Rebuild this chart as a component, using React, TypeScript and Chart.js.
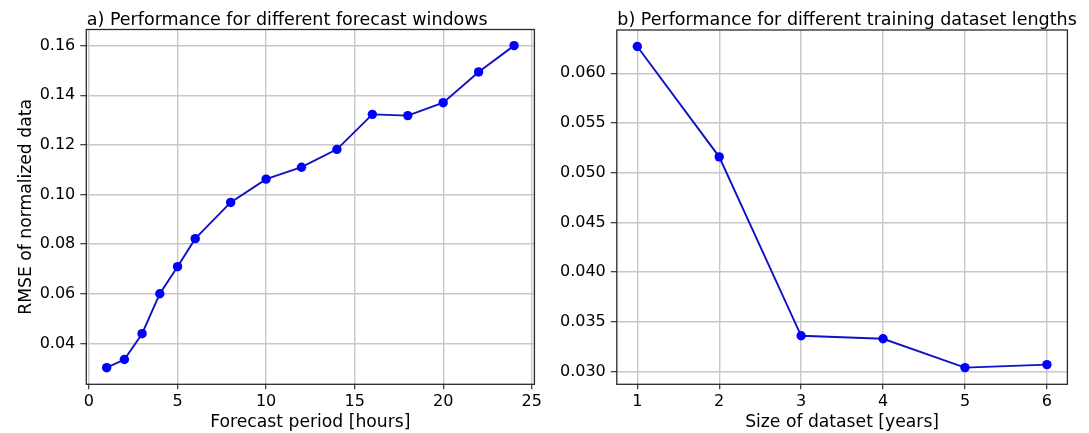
import React, { useEffect, useRef } from 'react';
import { Chart, registerables } from 'chart.js';

Chart.register(...registerables);

// ---- data ----
const forecastHours = [1, 2, 3, 4, 5, 6, 8, 10, 12, 14, 16, 18, 20, 22, 24];
const forecastRmse = [0.0302, 0.0335, 0.0439, 0.06, 0.0709, 0.0822, 0.0968, 0.1062, 0.111, 0.1182, 0.1323, 0.1318, 0.137, 0.1494, 0.16];
const datasetYears = [1, 2, 3, 4, 5, 6];
const datasetRmse = [0.0627, 0.0516, 0.0336, 0.0333, 0.0304, 0.0307];

const forecastXTicks = [0, 5, 10, 15, 20, 25];
const forecastYTicks = [0.04, 0.06, 0.08, 0.1, 0.12, 0.14, 0.16];
const datasetXTicks = [1, 2, 3, 4, 5, 6];
const datasetYTicks = [0.03, 0.035, 0.04, 0.045, 0.05, 0.055, 0.06];

const titleA = 'a) Performance for different forecast windows';
const titleB = 'b) Performance for different training dataset lengths';
const xLabelA = 'Forecast period [hours]';
const xLabelB = 'Size of dataset [years]';
const yLabelA = 'RMSE of normalized data';

const FONT = '"DejaVu Sans", "Liberation Sans", sans-serif';

type PanelCfg = {
  xs: number[];
  ys: number[];
  xTicks: number[];
  yTicks: number[];
  xMin: number;
  xMax: number;
  yMin: number;
  yMax: number;
  yDecimals: number;
  title: string;
  xLabel: string;
  yLabel?: string;
  width: number;
  plotLeft: number;
  plotRight: number;
  plotTop: number;
  plotBottom: number;
};

function makeChart(canvas: HTMLCanvasElement, c: PanelCfg, height: number) {
  const titlePlugin = {
    id: 'panelTitle',
    afterDraw(chart: any) {
      const ctx = chart.ctx;
      ctx.save();
      ctx.font = `17.5px ${FONT}`;
      ctx.fillStyle = '#000';
      ctx.textAlign = 'left';
      ctx.textBaseline = 'alphabetic';
      ctx.fillText(c.title, chart.chartArea.left + 0.5, 24.5);
      ctx.restore();
    },
  };
  const framePlugin = {
    id: 'frame',
    afterDatasetsDraw(chart: any) {
      const { left, top, right, bottom } = chart.chartArea;
      const ctx = chart.ctx;
      ctx.save();
      ctx.strokeStyle = '#2a2a2a';
      ctx.lineWidth = 1.3;
      ctx.strokeRect(left, top, right - left, bottom - top);
      ctx.restore();
    },
  };

  return new Chart(canvas, {
    type: 'line',
    data: {
      datasets: [
        {
          data: c.xs.map((x, i) => ({ x, y: c.ys[i] })),
          borderColor: '#1010c4',
          borderWidth: 1.9,
          pointBackgroundColor: '#0000ff',
          pointBorderColor: '#0000ff',
          pointRadius: 4.7,
          pointBorderWidth: 0,
          tension: 0,
        },
      ],
    },
    options: {
      responsive: false,
      animation: false,
      events: [],
      layout: {
        padding: {
          left: 0,
          top: c.plotTop,
          right: c.width - c.plotRight,
          bottom: 0,
        },
      },
      plugins: {
        legend: { display: false },
        tooltip: { enabled: false },
        title: { display: false },
      },
      scales: {
        x: {
          type: 'linear',
          min: c.xMin,
          max: c.xMax,
          afterBuildTicks(scale: any) {
            scale.ticks = c.xTicks.map((v) => ({ value: v }));
          },
          afterFit(scale: any) {
            scale.height = height - c.plotBottom;
          },
          border: { display: false },
          grid: {
            color: '#c8c8c8',
            lineWidth: 1.4,
            drawTicks: true,
            tickLength: 5,
            tickColor: '#333',
            tickWidth: 1.2,
          },
          ticks: {
            color: '#000',
            font: { family: FONT, size: 16 },
            padding: 3,
            maxRotation: 0,
            autoSkip: false,
            callback: (v: any) => String(v),
          },
          title: {
            display: true,
            text: c.xLabel,
            color: '#000',
            font: { family: FONT, size: 17.2 },
            padding: { top: 0, bottom: 0 },
          },
        },
        y: {
          type: 'linear',
          min: c.yMin,
          max: c.yMax,
          afterBuildTicks(scale: any) {
            scale.ticks = c.yTicks.map((v) => ({ value: v }));
          },
          afterFit(scale: any) {
            scale.width = c.plotLeft;
          },
          border: { display: false },
          grid: {
            color: '#c8c8c8',
            lineWidth: 1.4,
            drawTicks: true,
            tickLength: 6,
            tickColor: '#333',
            tickWidth: 1.2,
          },
          ticks: {
            color: '#000',
            font: { family: FONT, size: 16 },
            padding: 5,
            autoSkip: false,
            callback: (v: any) => Number(v).toFixed(c.yDecimals),
          },
          title: {
            display: !!c.yLabel,
            text: c.yLabel || '',
            color: '#000',
            font: { family: FONT, size: 17.2 },
            padding: { top: 16, bottom: 0 },
          },
        },
      },
    } as any,
    plugins: [titlePlugin, framePlugin],
  });
}

const H = 433;

const panelA: PanelCfg = {
  xs: forecastHours,
  ys: forecastRmse,
  xTicks: forecastXTicks,
  yTicks: forecastYTicks,
  xMin: -0.15,
  xMax: 25.15,
  yMin: 0.0235,
  yMax: 0.1665,
  yDecimals: 2,
  title: titleA,
  xLabel: xLabelA,
  yLabel: yLabelA,
  width: 545,
  plotLeft: 86.3,
  plotRight: 535.6,
  plotTop: 29.5,
  plotBottom: 384.3,
};

const panelB: PanelCfg = {
  xs: datasetYears,
  ys: datasetRmse,
  xTicks: datasetXTicks,
  yTicks: datasetYTicks,
  xMin: 0.75,
  xMax: 6.25,
  yMin: 0.02872,
  yMax: 0.06436,
  yDecimals: 3,
  title: titleB,
  xLabel: xLabelB,
  width: 544,
  plotLeft: 71.8,
  plotRight: 522.4,
  plotTop: 30,
  plotBottom: 384.3,
};

function Panel({ cfg, left }: { cfg: PanelCfg; left: number }) {
  const ref = useRef<HTMLCanvasElement | null>(null);
  useEffect(() => {
    if (!ref.current) return;
    const chart = makeChart(ref.current, cfg, H);
    return () => chart.destroy();
  }, [cfg]);
  return (
    <canvas
      ref={ref}
      width={cfg.width}
      height={H}
      style={{ position: 'absolute', left, top: 0, width: cfg.width, height: H }}
    />
  );
}

export default function App() {
  return (
    <div style={{ position: 'absolute', left: 0, top: 0, width: 1089, height: H, background: '#fff' }}>
      <Panel cfg={panelA} left={0} />
      <Panel cfg={panelB} left={545} />
    </div>
  );
}
